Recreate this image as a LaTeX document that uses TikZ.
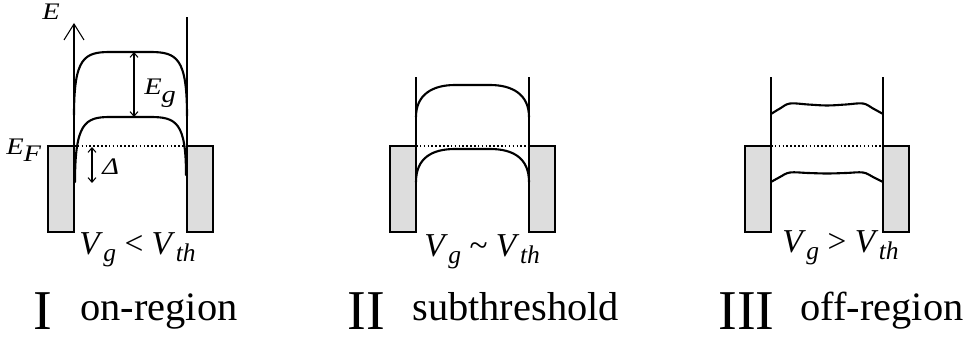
\documentclass[tikz,border=0pt]{standalone}
\usepackage{fontspec}
\setmainfont{Liberation Serif}
\usetikzlibrary{arrows.meta}
\definecolor{leadGray}{RGB}{221,221,221}
\tikzset{
  lead/.style={fill=leadGray, draw=black, line width=0.6pt},
  wall/.style={line width=0.6pt},
  band/.style={line width=1.2pt, line cap=round},
  fermi/.style={line width=0.9pt, dash pattern=on 0.9pt off 1.3pt},
  gap/.style={{Straight Barb[length=2.6pt,width=4.5pt]}-{Straight Barb[length=2.6pt,width=4.5pt]}, line width=0.6pt},
  lab/.style={inner sep=0pt, anchor=base west, font=\fontsize{13.5}{15}\selectfont\itshape},
  vlab/.style={inner sep=0pt, anchor=base west, font=\fontsize{19}{22}\selectfont},
  numlab/.style={inner sep=0pt, anchor=base west, font=\fontsize{32}{36}\selectfont},
  reglab/.style={inner sep=0pt, anchor=base west, font=\fontsize{23}{27}\selectfont},
}
% wide italic letters with full-size lowered index, as in the figure
\newcommand{\wide}[1]{\scalebox{1.2}[1]{#1}}
\newcommand{\vsub}[1]{\raisebox{-0.14cm}{\fontsize{14.5}{16}\selectfont\textit{#1}}}
\newcommand{\vv}[1]{\textit{V}\kern0.3pt\vsub{#1}}

% contacts of one panel: #1 name, #2 left wall x, #3 right wall x
\newcommand{\contacts}[3]{%
  \draw[lead] (#2-26,146) rectangle (#2,232);
  \draw[lead] (#3,146) rectangle (#3+26,232);
  \coordinate (#1l) at (#2,146);
  \coordinate (#1r) at (#3,146);
  \draw[fermi] (#1l) -- (#1r);
}

\begin{document}
\begin{tikzpicture}[x=0.02cm, y=-0.02cm]
\useasboundingbox (0,0) rectangle (969,340);

% ======================= I: on-region =======================
\contacts{a}{74}{187}
\coordinate (atop) at (74,23);
\coordinate (artop) at (187,17);
\draw[wall, -{Straight Barb[length=0.32cm,width=0.4cm]}] (al) -- (atop);
\draw[wall] (ar) -- (artop);
\draw[band] (74,115) .. controls (74,58) and (84,52) .. (110,52) -- (150,52)
  .. controls (177,52) and (187,58) .. (187,116);
\draw[band] (75,182) .. controls (75,123) and (85,117) .. (110,117) -- (150,117)
  .. controls (176,117) and (186,122) .. (186,175);
\coordinate (cb1) at (134,52);
\coordinate (vb1) at (134,117);
\draw[gap] (cb1) -- (vb1);
\coordinate (ef1) at (92,147);
\coordinate (dl1) at (92,183);
\draw[gap] (ef1) -- (dl1);
\node[lab] (eaxis) at (42,20) {\wide{E}};
\node[lab] (efermi) at (6,155) {\wide{E\raisebox{-0.14cm}{F}}};
\node[lab] (egap) at (144,95) {\wide{E\raisebox{-0.16cm}{g}}};
\node[lab] (delta) at (102,175) {\wide{Δ}};
\node[vlab] (v1) at (79,255) {\vv{g} < \vv{th}};
\node[numlab] (n1) at (33,330) {I};
\node[reglab] (r1) at (80,321) {on-region};

% ======================= II: subthreshold =======================
\contacts{b}{416}{529}
\coordinate (bltop) at (416,77);
\coordinate (brtop) at (529,77);
\draw[wall] (bl) -- (bltop);
\draw[wall] (br) -- (brtop);
\draw[band] (416,117) .. controls (416,95) and (432,85) .. (455,85) -- (490,85)
  .. controls (513,85) and (529,95) .. (529,117);
\draw[band] (416,182) .. controls (416,158) and (432,149) .. (455,149) -- (490,149)
  .. controls (513,149) and (529,158) .. (529,182);
\node[vlab] (v2) at (424,257) {\vv{g} \textasciitilde{} \vv{th}};
\node[numlab] (n2) at (347,330) {II};
\node[reglab] (r2) at (412,321) {subthreshold};

% ======================= III: off-region =======================
\contacts{c}{771}{883}
\coordinate (cltop) at (771,77);
\coordinate (crtop) at (883,77);
\draw[wall] (cl) -- (cltop);
\draw[wall] (cr) -- (crtop);
\draw[band] plot[smooth, tension=0.6] coordinates {(771,114) (780,108.5) (790,103.5)
  (808,104.5) (827,105.5) (846,104.5) (863,103.5) (873,108.5) (883,114)};
\draw[band] plot[smooth, tension=0.6] coordinates {(771,182) (780,177) (790,172.5)
  (808,173) (827,173.5) (846,173) (863,172.5) (873,177) (883,182)};
\node[vlab] (v3) at (782,253) {\vv{g} > \vv{th}};
\node[numlab] (n3) at (718,330) {III};
\node[reglab] (r3) at (800,321) {off-region};

\end{tikzpicture}
\end{document}
